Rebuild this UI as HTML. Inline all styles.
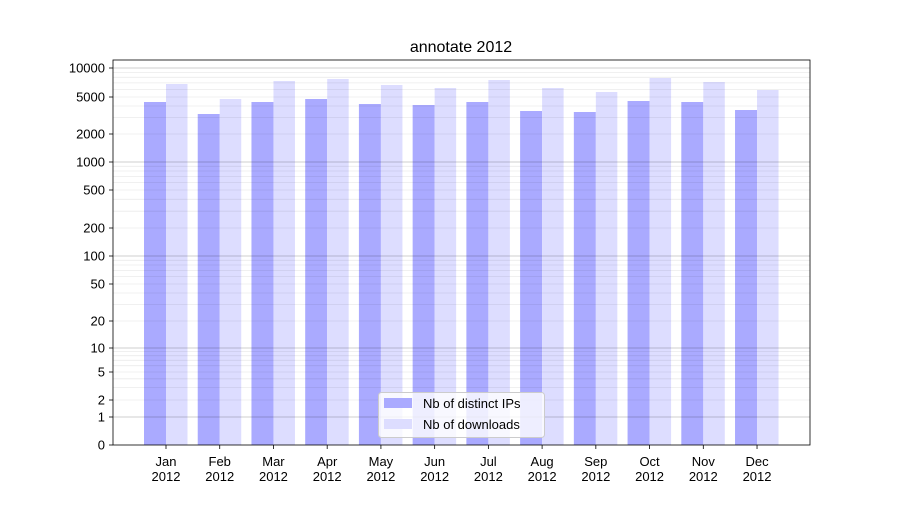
<!DOCTYPE html>
<html><head><meta charset="utf-8"><style>
body{margin:0;background:#fff}
svg text{font-family:"Liberation Sans","DejaVu Sans",sans-serif;font-size:13px;fill:#000}
</style></head><body>
<svg id="s" width="900" height="500" xmlns="http://www.w3.org/2000/svg"></svg>
<script>
var s=document.getElementById('s'),h='';
var T=[[1,417],[2,400],[5,372],[10,348],[20,321],[50,284],[100,256],[200,228],[500,190],[1000,162],[2000,134],[5000,97],[10000,68]];
function Y(v){if(v<=1)return 445-28*v;for(var i=0;i<T.length-1;i++){var a=T[i],b=T[i+1];if(v<=b[0]){var t=Math.log(v/a[0])/Math.log(b[0]/a[0]);return a[1]+(b[1]-a[1])*t;}}return 68+(68-97)*Math.log(v/10000)/Math.log(2);}
var bt=[102,114,102,99,104,105,102,111,112,101,102,110],lt=[84,99,81,79,85,88,80,88,92,78,82,90];
var mo=['Jan','Feb','Mar','Apr','May','Jun','Jul','Aug','Sep','Oct','Nov','Dec'];
for(var i=0;i<12;i++){var c=166+i*53.73;
h+='<rect x="'+(c-22)+'" y="'+bt[i]+'" width="22" height="'+(445-bt[i])+'" fill="#aaaaff"/>';
h+='<rect x="'+c+'" y="'+lt[i]+'" width="21.5" height="'+(445-lt[i])+'" fill="#ddddff"/>';
h+='<line x1="'+c+'" x2="'+c+'" y1="445" y2="449" stroke="#000" stroke-width="0.8"/>';
h+='<text x="'+c+'" y="466" text-anchor="middle">'+mo[i]+'</text><text x="'+c+'" y="481" text-anchor="middle">2012</text>';}
for(var d=1;d<=10000;d*=10){for(var m=2;m<=9;m++){var v=d*m;var y=Y(v);if(y<60)continue;h+='<line x1="113" x2="810" y1="'+y.toFixed(1)+'" y2="'+y.toFixed(1)+'" stroke="#000" stroke-opacity="0.08" stroke-width="0.8"/>';}}
[1,10,100,1000,10000].forEach(function(v){var y=Y(v);h+='<line x1="113" x2="810" y1="'+y+'" y2="'+y+'" stroke="#000" stroke-opacity="0.25" stroke-width="0.8"/>';});
[[0,445]].concat(T).forEach(function(t){h+='<line x1="109" x2="113" y1="'+t[1]+'" y2="'+t[1]+'" stroke="#000" stroke-width="0.8"/><text x="105" y="'+(t[1]+4.5)+'" text-anchor="end">'+t[0]+'</text>';});
h+='<rect x="113" y="60" width="697" height="385" fill="none" stroke="#000" stroke-width="0.8"/>';
h+='<text x="461" y="52" text-anchor="middle" style="font-size:16px">annotate 2012</text>';
h+='<rect x="378.5" y="392.5" width="166" height="45" rx="3" fill="#fff" fill-opacity="0.8" stroke="#ccc"/>';
h+='<rect x="384" y="398" width="28" height="10" fill="#aaaaff"/><text x="423" y="408">Nb of distinct IPs</text>';
h+='<rect x="384" y="419" width="28" height="10" fill="#ddddff"/><text x="423" y="429">Nb of downloads</text>';
s.innerHTML=h;
</script></body></html>
